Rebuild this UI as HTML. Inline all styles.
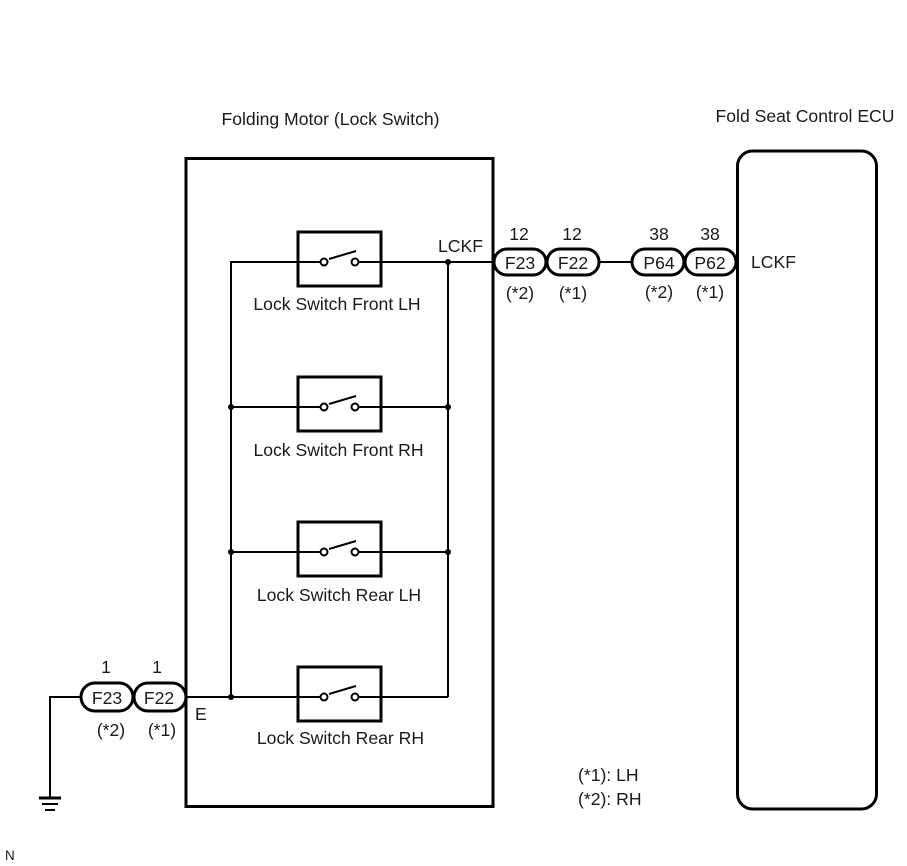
<!DOCTYPE html>
<html><head><meta charset="utf-8"><style>
html,body{margin:0;padding:0;background:#fff}
svg{display:block}
text{font-family:"Liberation Sans",sans-serif;font-size:17.6px;fill:#1a1a1a}
.m{text-anchor:middle}
</style></head><body>
<svg width="907" height="866" viewBox="0 0 907 866" xmlns="http://www.w3.org/2000/svg">
<defs>
<g id="sw">
<rect x="298" y="-30" width="83" height="54" fill="#fff" stroke="#000" stroke-width="3"/>
<line x1="284" y1="0" x2="320" y2="0" stroke="#000" stroke-width="2"/>
<line x1="359" y1="0" x2="395" y2="0" stroke="#000" stroke-width="2"/>
<line x1="329" y1="-3" x2="356" y2="-11" stroke="#000" stroke-width="2"/>
<circle cx="324" cy="0" r="3.5" fill="#fff" stroke="#000" stroke-width="2"/>
<circle cx="355" cy="0" r="3.5" fill="#fff" stroke="#000" stroke-width="2"/>
</g>
</defs>
<rect width="907" height="866" fill="#fff"/>
<rect x="186" y="158.500" width="307" height="648" fill="none" stroke="#000" stroke-width="3"/>
<rect x="737.500" y="151" width="139" height="658" rx="15" ry="15" fill="none" stroke="#000" stroke-width="3"/>
<g stroke="#000" stroke-width="2" fill="none">
<path d="M493 262H231V697"/>
<path d="M448 262V697"/>
<line x1="231" y1="407" x2="448" y2="407"/>
<line x1="231" y1="552" x2="448" y2="552"/>
<line x1="186" y1="697" x2="448" y2="697"/>
<line x1="600" y1="262" x2="632" y2="262"/>
<path d="M80 697H50V798"/>
</g>
<use href="#sw" y="262"/><use href="#sw" y="407"/><use href="#sw" y="552"/><use href="#sw" y="697"/>
<g fill="#000">
<circle cx="448" cy="262" r="3"/><circle cx="231" cy="407" r="3"/><circle cx="448" cy="407" r="3"/>
<circle cx="231" cy="552" r="3"/><circle cx="448" cy="552" r="3"/><circle cx="231" cy="697" r="3"/>
</g>
<g stroke="#000" fill="none">
<line x1="39" y1="798" x2="61" y2="798" stroke-width="3"/>
<line x1="42" y1="804" x2="58" y2="804" stroke-width="2"/>
<line x1="45" y1="810" x2="55" y2="810" stroke-width="2"/>
</g>
<g fill="#fff" stroke="#000" stroke-width="3">
<rect x="494" y="249" width="52" height="26" rx="13"/>
<rect x="547" y="249" width="52" height="26" rx="13"/>
<rect x="632" y="249" width="52" height="26" rx="13"/>
<rect x="685" y="249" width="51" height="26" rx="13"/>
<rect x="81" y="683" width="52" height="28" rx="14"/>
<rect x="134" y="683" width="52" height="28" rx="14"/>
</g>
<text x="330.500" y="125" class="m">Folding Motor (Lock Switch)</text>
<text x="805" y="122" class="m">Fold Seat Control ECU</text>
<text x="460.500" y="252" class="m">LCKF</text>
<text x="773.500" y="268" class="m">LCKF</text>
<text x="337" y="310" class="m">Lock Switch Front LH</text>
<text x="338.500" y="456" class="m">Lock Switch Front RH</text>
<text x="339" y="601" class="m">Lock Switch Rear LH</text>
<text x="340.500" y="744" class="m">Lock Switch Rear RH</text>
<text x="519" y="240" class="m">12</text>
<text x="572" y="240" class="m">12</text>
<text x="659" y="240" class="m">38</text>
<text x="710" y="240" class="m">38</text>
<text x="520" y="269" class="m">F23</text>
<text x="573" y="269" class="m">F22</text>
<text x="659" y="269" class="m">P64</text>
<text x="710" y="269" class="m">P62</text>
<text x="520" y="299" class="m">(*2)</text>
<text x="573" y="299" class="m">(*1)</text>
<text x="659" y="298" class="m">(*2)</text>
<text x="710" y="298" class="m">(*1)</text>
<text x="106" y="673" class="m">1</text>
<text x="157" y="673" class="m">1</text>
<text x="107" y="704" class="m">F23</text>
<text x="159" y="704" class="m">F22</text>
<text x="111" y="736" class="m">(*2)</text>
<text x="162" y="736" class="m">(*1)</text>
<text x="195" y="720">E</text>
<text x="578" y="781">(*1): LH</text>
<text x="578" y="805">(*2): RH</text>
<text x="5" y="860" style="font-size:13.500px">N</text>
</svg>
</body></html>
